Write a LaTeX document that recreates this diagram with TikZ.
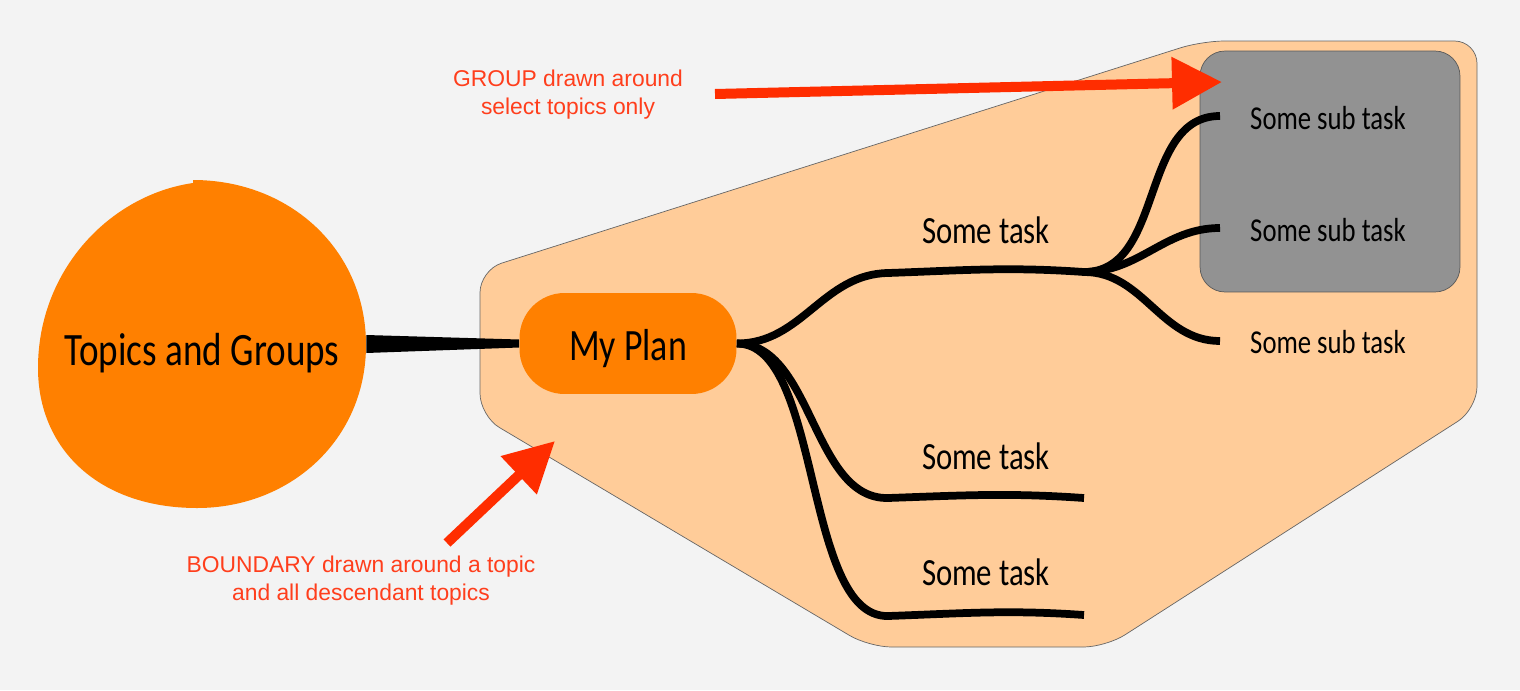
\documentclass[tikz,border=0pt]{standalone}
\usepackage{fontspec}
\usetikzlibrary{arrows.meta}
\setmainfont[FakeStretch=0.8]{Carlito}
\newfontfamily\notefont{Liberation Sans}
\definecolor{paper}{HTML}{F3F3F3}
\definecolor{topicorange}{HTML}{FF8000}
\definecolor{boundaryfill}{HTML}{FFCC99}
\definecolor{groupfill}{HTML}{929292}
\definecolor{notered}{HTML}{FF2D00}
\definecolor{notetext}{HTML}{FF3E1C}
\tikzstyle{topic}=[circle, minimum size=6.56cm, inner sep=0pt, font=\fontsize{26.4}{30}\selectfont]
\tikzstyle{plan}=[rectangle, rounded corners=0.9cm, fill=topicorange, minimum width=4.34cm, minimum height=2.02cm, font=\fontsize{25.5}{30}\selectfont]
\tikzstyle{group}=[rectangle, rounded corners=0.5cm, fill=groupfill, draw=black!65, thin, minimum width=5.2cm, minimum height=4.82cm]
\tikzstyle{task}=[font=\fontsize{21.9}{26}\selectfont]
\tikzstyle{subtask}=[font=\fontsize{19}{23}\selectfont]
\tikzstyle{note}=[text=notetext, align=center, font=\notefont\fontsize{13}{16}\selectfont]
\tikzstyle{branch}=[line width=0.155cm]
\tikzstyle{pointer}=[draw=notered, line width=0.2cm, -{Triangle[length=1cm, width=1cm, fill=notered]}]

\begin{document}
\begin{tikzpicture}[x=0.02cm, y=-0.02cm]
		   \useasboundingbox (0, 0) rectangle (1520, 690);
		   \fill [paper] (0, 0) rectangle (1520, 690);
		   \begin{scope}
			   \draw [fill=boundaryfill, draw=black!60, thin, rounded corners=0.45cm] (480, 270) -- (1202, 41) -- (1477, 41) -- (1477, 409) -- (1106, 647) -- (869, 647) -- (480, 416) -- cycle;
			   \fill [topicorange] (193, 180) .. controls (290, 180) and (366, 250) .. (366, 345) .. controls (366, 440) and (290, 508) .. (197, 508) .. controls (100, 508) and (38, 450) .. (38, 368) .. controls (38, 270) and (110, 195) .. (193, 183) -- cycle;
		   \end{scope}
		   \begin{scope}
			   \node (topics) at (202, 344)[topic] {\raisebox{-12pt}[0pt][0pt]{Topics and Groups}};
			   \node (myplan) at (628, 343.5)[plan] {\raisebox{-9.4pt}[0pt][0pt]{My Plan}};
			   \node (selected) at (1330, 171.5)[group] {};

			   \node (task1) at (986, 230)[task] {Some task};
			   \node (task2) at (986, 456)[task] {Some task};
			   \node (task3) at (986, 572)[task] {Some task};

			   \node (sub1) at (1328, 118)[subtask] {Some sub task};
			   \node (sub2) at (1328, 230)[subtask] {Some sub task};
			   \node (sub3) at (1328, 342)[subtask] {Some sub task};

			   \node (groupnote) at (568, 95)[note] {GROUP drawn around\\select topics only};
			   \node (boundarynote) at (361, 581)[note] {BOUNDARY drawn around a topic\\and all descendant topics};

			   \coordinate (a1) at (888, 273);
			   \coordinate (a2) at (1084, 272);
			   \coordinate (b1) at (888, 498);
			   \coordinate (b2) at (1084, 498);
			   \coordinate (c1) at (888, 616);
			   \coordinate (c2) at (1084, 615);
			   \coordinate (s1) at (1220, 116);
			   \coordinate (s2) at (1220, 228);
			   \coordinate (s3) at (1220, 341);

			   \coordinate (gfrom) at (715, 94);
			   \coordinate (gto) at (1222, 82);
			   \coordinate (bfrom) at (447, 543);
			   \coordinate (bto) at (555, 441);
		   \end{scope}
		   \begin{scope}
			   \fill ([yshift=0.18cm]topics.east) -- ([yshift=0.08cm]myplan.west) -- ([yshift=-0.08cm]myplan.west) -- ([yshift=-0.18cm]topics.east) -- cycle;

			   \path [branch] (myplan.east) edge [out=0, in=181] (a1);
			   \path [branch] (myplan.east) edge [out=0, in=181, looseness=0.9] (b1);
			   \path [branch] (myplan.east) edge [out=0, in=181, looseness=0.7] (c1);

			   \path [branch] (a1) edge [out=2, in=176] (a2);
			   \path [branch] (b1) edge [out=2, in=176] (b2);
			   \path [branch] (c1) edge [out=2, in=176] (c2);

			   \path [branch] (a2) edge [out=0, in=180] (s1);
			   \path [branch] (a2) edge [out=0, in=180] (s2);
			   \path [branch] (a2) edge [out=0, in=180] (s3);

			   \draw [pointer] (gfrom) -- (gto);
			   \draw [pointer] (bfrom) -- (bto);
		   \end{scope}
\end{tikzpicture}
\end{document}
